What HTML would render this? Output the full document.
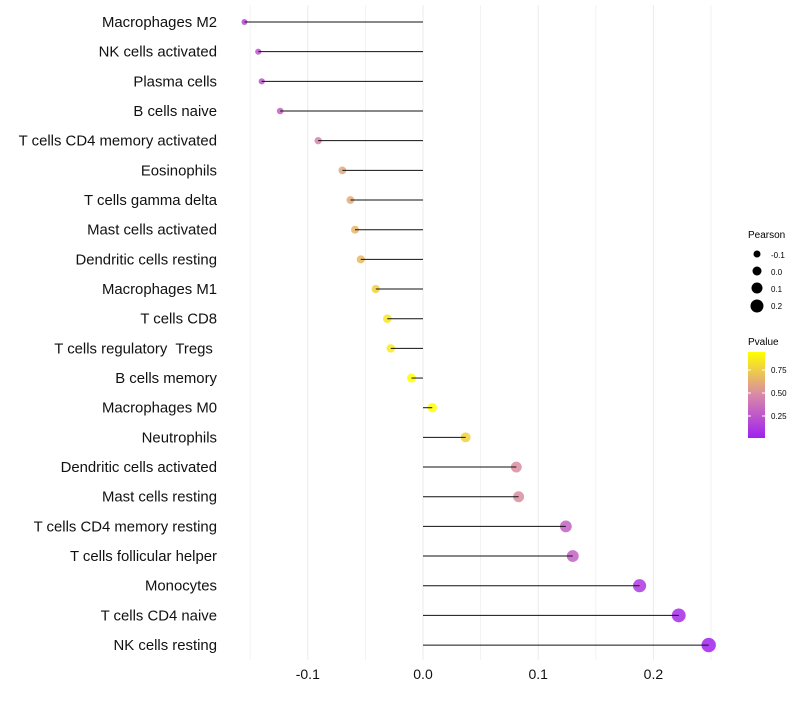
<!DOCTYPE html>
<html><head><meta charset="utf-8"><style>
body{margin:0;background:#fff;font-family:"Liberation Sans",sans-serif}
svg text{font-family:"Liberation Sans",sans-serif;white-space:pre}
</style></head><body>
<svg id="chart" width="800" height="700" xmlns="http://www.w3.org/2000/svg">
<defs><linearGradient id="pg" x1="0" y1="1" x2="0" y2="0">
<stop offset="0" stop-color="#a020f0"/><stop offset="0.5" stop-color="#d889a8"/><stop offset="1" stop-color="#ffff00"/>
</linearGradient></defs>
<g id="grid"></g><g id="marks"></g><g id="labels"></g><g id="xticks"></g>
<g>
<text x="748" y="238" font-size="10">Pearson</text>
<circle cx="757" cy="254" r="3.5" fill="#000"/><text x="771" y="258" font-size="8">-0.1</text>
<circle cx="757" cy="271" r="4.5" fill="#000"/><text x="771" y="275" font-size="8">0.0</text>
<circle cx="757" cy="288" r="5.5" fill="#000"/><text x="771" y="292" font-size="8">0.1</text>
<circle cx="757" cy="306" r="6.5" fill="#000"/><text x="771" y="309" font-size="8">0.2</text>
</g>
<g>
<text x="748" y="345" font-size="10">Pvalue</text>
<rect x="748" y="352" width="17" height="86" fill="url(#pg)"/>
<line x1="748" x2="751" y1="370" y2="370" stroke="#fff"/><line x1="762" x2="765" y1="370" y2="370" stroke="#fff"/>
<line x1="748" x2="751" y1="393" y2="393" stroke="#fff"/><line x1="762" x2="765" y1="393" y2="393" stroke="#fff"/>
<line x1="748" x2="751" y1="416" y2="416" stroke="#fff"/><line x1="762" x2="765" y1="416" y2="416" stroke="#fff"/>
<text x="771" y="373" font-size="8">0.75</text>
<text x="771" y="396" font-size="8">0.50</text>
<text x="771" y="419" font-size="8">0.25</text>
</g>
</svg>
<script>
const categories=["Macrophages M2","NK cells activated","Plasma cells","B cells naive","T cells CD4 memory activated","Eosinophils","T cells gamma delta","Mast cells activated","Dendritic cells resting","Macrophages M1","T cells CD8","T cells regulatory  Tregs ","B cells memory","Macrophages M0","Neutrophils","Dendritic cells activated","Mast cells resting","T cells CD4 memory resting","T cells follicular helper","Monocytes","T cells CD4 naive","NK cells resting"];
const pearson=[-0.155,-0.143,-0.14,-0.124,-0.091,-0.070,-0.063,-0.059,-0.054,-0.041,-0.031,-0.028,-0.010,0.008,0.037,0.081,0.083,0.124,0.130,0.188,0.222,0.248];
const pvalue=[0.2,0.25,0.25,0.3,0.45,0.6,0.62,0.65,0.67,0.77,0.85,0.88,0.95,0.95,0.77,0.5,0.5,0.3,0.3,0.12,0.06,0.02];
const tickValues=[-0.1,0,0.1,0.2];
const tickLabels=["-0.1","0.0","0.1","0.2"];
const NS="http://www.w3.org/2000/svg";
const x=v=>423+v*1152;
const y=i=>22+i*29.67;
const rad=v=>Math.max(1.6,4.6+v*10.5);
function lerp(a,b,t){return a.map((c,k)=>Math.round(c+(b[k]-c)*t));}
function col(p){const s=[[160,32,240],[216,137,168],[255,255,0]];const t=Math.min(1,Math.max(0,(p-0.01)/0.94));
 const c=t<0.5?lerp(s[0],s[1],t*2):lerp(s[1],s[2],(t-0.5)*2);return `rgb(${c})`;}
function mk(tag,attrs,parent){const e=document.createElementNS(NS,tag);for(const k in attrs)e.setAttribute(k,attrs[k]);parent.appendChild(e);return e;}
const grid=document.getElementById('grid'),marks=document.getElementById('marks'),labels=document.getElementById('labels'),xt=document.getElementById('xticks');
for(let k=-3;k<=5;k++){const v=k*0.05;const major=(k%2===0);const g=mk('line',{x1:x(v),x2:x(v),y1:5,y2:660,stroke:major?'#ebebeb':'#f2f2f2','stroke-width':1},grid);

}
tickValues.forEach((v,i)=>{const t=mk('text',{x:x(v),y:679,'font-size':14,'text-anchor':'middle',fill:'#111'},xt);t.textContent=tickLabels[i];

});
categories.forEach((c,i)=>{
 const t=mk('text',{x:217,y:y(i)+5,'font-size':14.9,'text-anchor':'end',fill:'#111'},labels);t.textContent=c;
 
 
 const d=mk('circle',{cx:x(pearson[i]),cy:y(i),r:rad(pearson[i]),fill:col(pvalue[i]),'fill-opacity':0.85},marks);
 
 
 const l=mk('line',{x1:x(0),x2:x(pearson[i]),y1:y(i),y2:y(i),stroke:'#111','stroke-width':1},marks);
 
 
});
</script>
</body></html>
